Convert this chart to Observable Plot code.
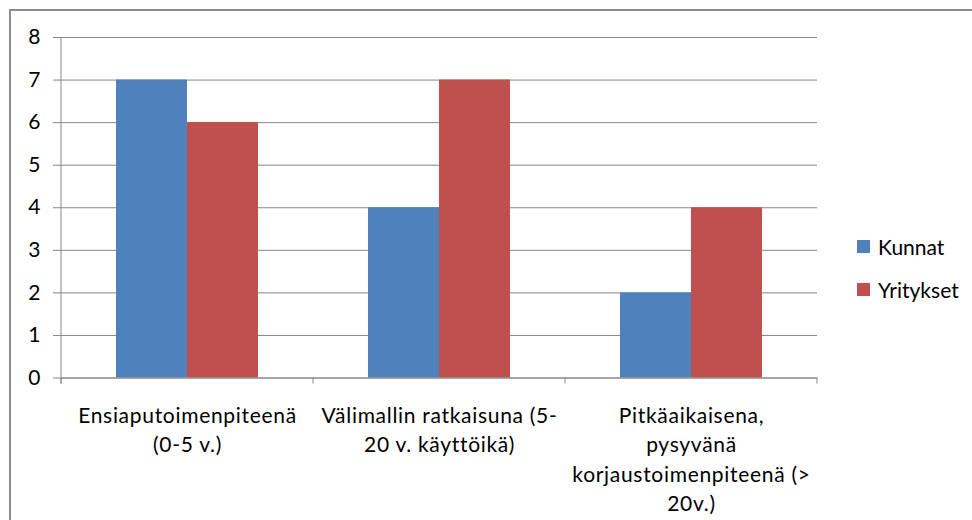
<!DOCTYPE html>
<html><head><meta charset="utf-8">
<script src="https://cdn.jsdelivr.net/npm/d3@7"></script>
<script src="https://cdn.jsdelivr.net/npm/@observablehq/plot@0.6"></script>
<style>
html,body{margin:0;padding:0;background:#fff;}
#wrap{position:relative;width:972px;height:520px;overflow:hidden;font-family:Lato,sans-serif;}
#border{position:absolute;left:9px;top:9px;width:1000px;height:600px;border-top:2px solid #8c8c8c;border-left:2px solid #8c8c8c;}
#chart{position:absolute;left:0;top:0;}
#legend{position:absolute;left:857px;top:225px;}
.item{display:flex;align-items:center;height:43px;font-size:21px;color:#000;}
.sw{width:13px;height:13px;margin-right:8px;}
g[aria-label="fx-axis tick label"] text{letter-spacing:0.7px;}
</style></head>
<body><div id="wrap"><div id="border"></div><div id="chart"></div><div id="legend"></div></div>
<script>
const categories = [
  "Ensiaputoimenpiteenä (0-5 v.)",
  "Välimallin ratkaisuna (5-20 v. käyttöikä)",
  "Pitkäaikaisena, pysyvänä korjaustoimenpiteenä (> 20v.)"
];
const tickLabels = [
  "Ensiaputoimenpiteenä\n(0-5 v.)",
  "Välimallin ratkaisuna (5-\n20 v. käyttöikä)",
  "Pitkäaikaisena,\npysyvänä\nkorjaustoimenpiteenä (>\n20v.)"
];
const series = ["Kunnat", "Yritykset"];
const kunnat = [7, 4, 2];
const yritykset = [6, 7, 4];
const yTicks = [0, 1, 2, 3, 4, 5, 6, 7, 8];
const colors = ["#4F81BD", "#C0504D"];

const data = categories.flatMap((c, i) => [
  {category: c, series: series[0], value: kunnat[i]},
  {category: c, series: series[1], value: yritykset[i]}
]);

const gray = "#868686";
const chart = Plot.plot({
  width: 972, height: 520,
  marginLeft: 60, marginRight: 154, marginTop: 37, marginBottom: 142.5,
  style: {fontFamily: "Lato, sans-serif", fontSize: "21px", color: "#000", background: "transparent"},
  fx: {domain: categories, padding: 0},
  x: {domain: series, paddingInner: 0, paddingOuter: 0.77, axis: null},
  y: {domain: [0, 8]},
  color: {domain: series, range: colors},
  marks: [
    Plot.gridY(yTicks, {stroke: gray, strokeOpacity: 1}),
    Plot.barY(data, {fx: "category", x: "series", y: "value", fill: "series"}),
    Plot.ruleY([0], {stroke: gray}),
    Plot.axisY(yTicks, {tickSize: 8, tickPadding: 13, stroke: gray, fill: "#000", fontSize: 21, label: null}),
    Plot.axisFx({anchor: "bottom", tickSize: 0, tickPadding: 24, lineHeight: 1.4, fontSize: 21, fill: "#000", label: null,
      tickFormat: c => tickLabels[categories.indexOf(c)]})
  ]
});
document.getElementById("chart").appendChild(chart);

// Excel-style axis line and category boundary ticks, from Plot's own scales
const fx = chart.scale("fx"), y = chart.scale("y");
const svg = d3.select(chart);
const x0 = fx.apply(categories[0]);
const bounds = categories.map(c => fx.apply(c)).concat([fx.apply(categories[categories.length - 1]) + fx.bandwidth]);
svg.append("line").attr("x1", x0).attr("x2", x0).attr("y1", y.apply(8)).attr("y2", y.apply(0) + 6)
  .attr("stroke", gray);
svg.selectAll("line.bt").data(bounds).join("line").attr("class", "bt")
  .attr("x1", d => d).attr("x2", d => d).attr("y1", y.apply(0)).attr("y2", y.apply(0) + 6).attr("stroke", gray);

// legend
const leg = d3.select("#legend");
series.forEach((s, i) => {
  const it = leg.append("div").attr("class", "item");
  it.append("div").attr("class", "sw").style("background", colors[i]);
  it.append("span").text(s);
});
</script></body></html>
